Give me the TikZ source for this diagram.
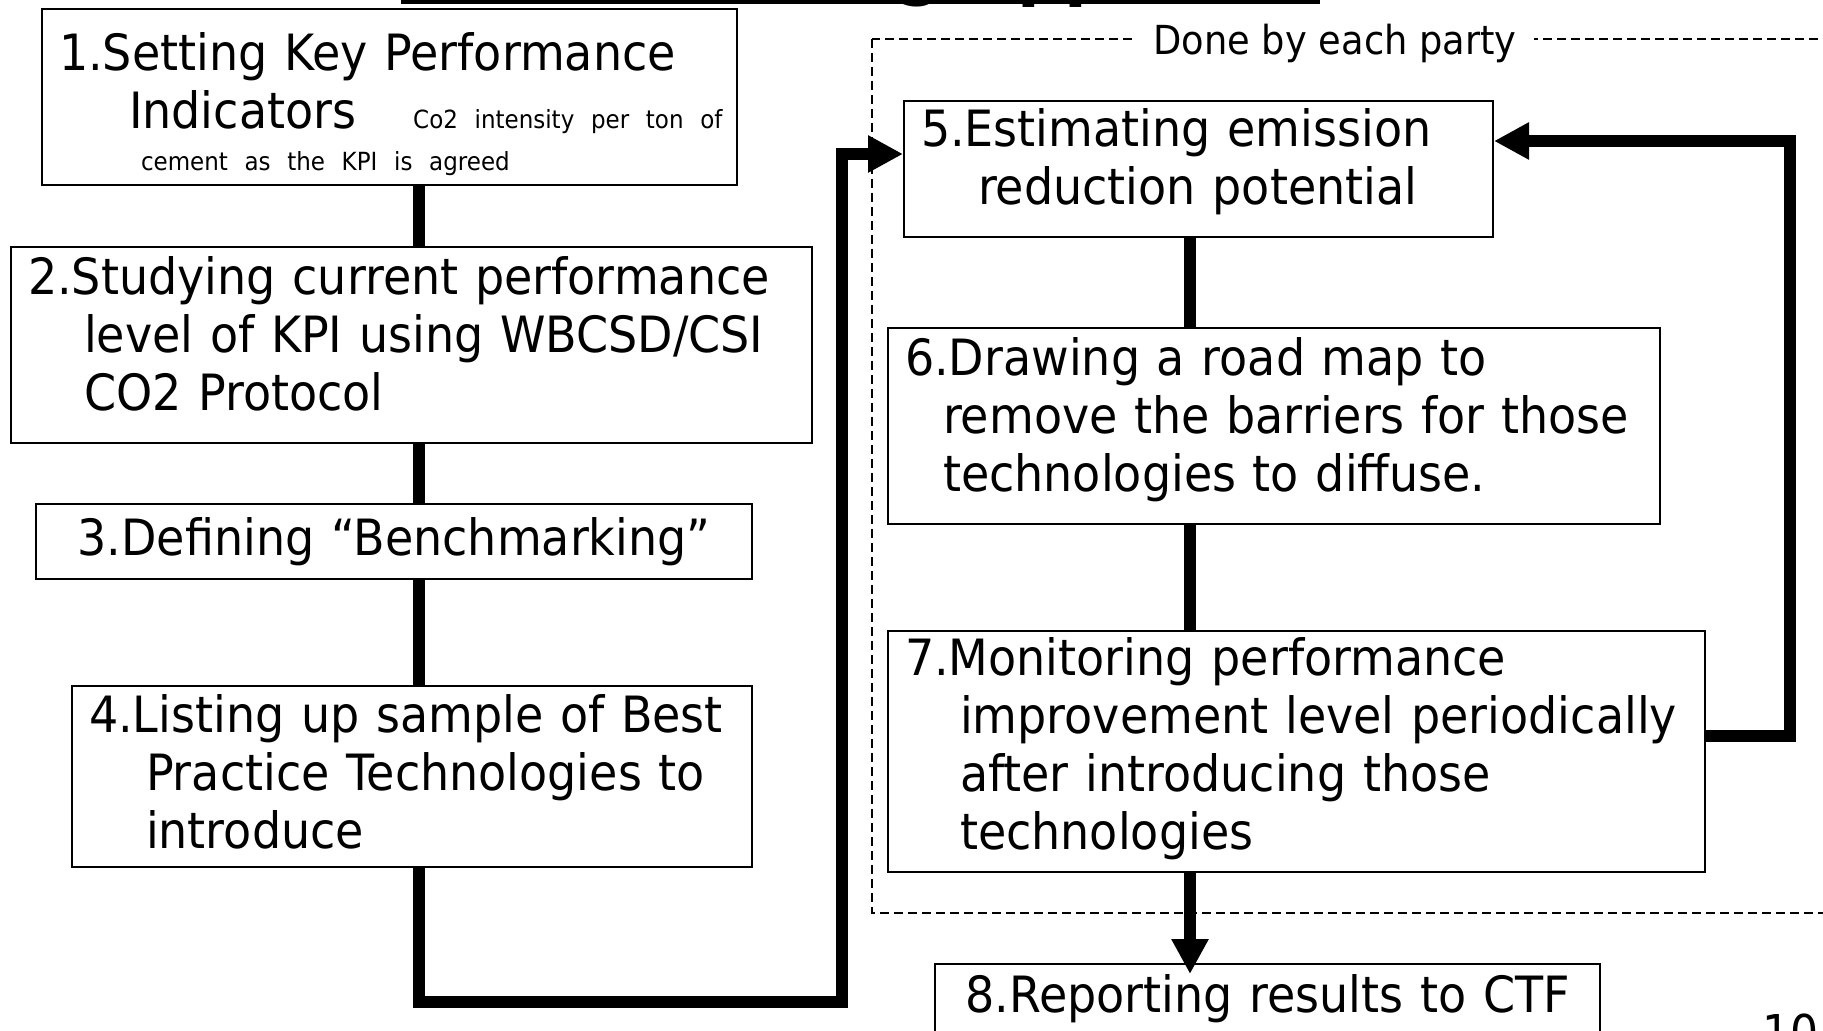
\documentclass[tikz,border=0pt]{standalone}
\usepackage{fontspec}
\setmainfont{DejaVu Sans}[FakeStretch=0.92]
\usetikzlibrary{arrows.meta}
\newcommand\boxfont{\fontsize{25}{29}\selectfont}
\newcommand\notefont{\fontsize{12.5}{16}\selectfont}
\newcommand\sink[1]{\rule[-#1]{0pt}{#1}}
\begin{document}
\begin{tikzpicture}[x=0.5pt,y=-0.5pt,
    stepbox/.style={draw,line width=1pt,fill=white,anchor=north west,inner xsep=8.5pt,inner ysep=0pt,align=left,font=\boxfont},
    link/.style={line width=6pt},
    tip/.style={-{Triangle[length=17.5pt,width=17.5pt]}}]
  \useasboundingbox (0,0) rectangle (1823,1031);
  \clip (0,0) rectangle (1823,1031);
  \fill (401,0) rectangle (1320,4);
  \begin{scope}
    \clip (0,0) rectangle (1823,8);
    \node[anchor=base west,inner sep=0pt,font=\fontsize{36}{36}\selectfont\bfseries] (titleg) at (896,-8) {g};
    \node[anchor=base west,inner sep=0pt,font=\fontsize{36}{36}\selectfont\bfseries] (titlepp) at (1017,-7) {pp};
  \end{scope}
  \draw[line width=0.75pt,dash pattern=on 4.5pt off 2.5pt] (872,39) rectangle (1850,913);
  \node[fill=white,inner xsep=8.5pt,inner ysep=2pt,font=\fontsize{20}{24}\selectfont] (party) at (1335,43) {Done by each party};
  \coordinate (leftrail) at (419,0);
  \coordinate (rightrail) at (1190,0);
  \coordinate (turn) at (842,1002);
  \coordinate (loop) at (1790,0);
  \node[stepbox,text width=330.5pt,minimum height=88pt] (kpi) at (41,8) {\rule{0pt}{26pt}1.Setting Key Performance\\\mbox{\hspace*{35pt}Indicators\hspace{28.5pt}{\notefont Co2 intensity per ton of}}\\[-8pt]\mbox{\hspace*{41pt}{\notefont cement as the KPI is agreed}}};
  \node[stepbox,text width=383.5pt,minimum height=98pt] (study) at (10,246) {2.Studying current performance\\\hspace*{28pt}level of KPI using WBCSD/CSI\\\hspace*{28pt}CO2 Protocol\sink{11.6pt}};
  \node[stepbox,text width=341pt,minimum height=37.5pt,align=center] (bench) at (35,503) {3.Defining “Benchmarking”};
  \node[stepbox,text width=323pt,minimum height=90.5pt] (best) at (71,685) {4.Listing up sample of Best\\\hspace*{28.5pt}Practice Technologies to\\\hspace*{28.5pt}introduce\sink{4.7pt}};
  \node[stepbox,text width=277.5pt,minimum height=68pt] (estimate) at (903,100) {5.Estimating emission\\\hspace*{28.5pt}reduction potential\sink{12.3pt}};
  \node[stepbox,text width=369pt,minimum height=98pt] (roadmap) at (887,327) {6.Drawing a road map to\\\hspace*{19pt}remove the barriers for those\\\hspace*{19pt}technologies to diffuse.\sink{11.7pt}};
  \node[stepbox,text width=391.5pt,minimum height=120.5pt] (monitor) at (887,630) {7.Monitoring performance\\\hspace*{27.5pt}improvement level periodically\\\hspace*{27.5pt}after introducing those\\\hspace*{27.5pt}technologies\sink{7.5pt}};
  \node[stepbox,text width=315.5pt,minimum height=41pt,align=center] (report) at (934,963) {8.Reporting results to CTF\sink{11.7pt}};
  \coordinate (fivein) at ([yshift=14pt]estimate.east);
  \foreach \a/\b in {kpi/study,study/bench,bench/best}
    \draw[link] (\a.south -| leftrail) -- (\b.north -| leftrail);
  \foreach \a/\b in {estimate/roadmap,roadmap/monitor}
    \draw[link] (\a.south -| rightrail) -- (\b.north -| rightrail);
  \draw[link,tip] (best.south -| leftrail) |- (turn) |- ([yshift=7.5pt]estimate.west);
  \draw[link,tip] ([yshift=7.75pt]monitor.east) -| (loop |- fivein) -- (fivein);
  \draw[link,tip,shorten >=-5.5pt] (monitor.south -| rightrail) -- (report.north -| rightrail);
  \node[anchor=north west,inner sep=0pt,font=\fontsize{24}{24}\selectfont] (pagenum) at (1762,1013) {10};
\end{tikzpicture}
\end{document}
